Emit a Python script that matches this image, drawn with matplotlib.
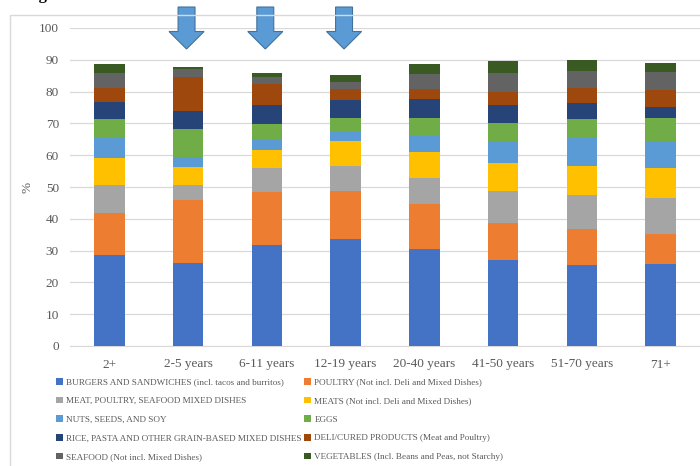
import numpy as np
import matplotlib
matplotlib.use("Agg")
import matplotlib.pyplot as plt
from matplotlib.patches import FancyArrow, Rectangle

plt.rcParams['font.family'] = ['Liberation Serif', 'DejaVu Serif']

groups = ['2+', '2-5 years', '6-11 years', '12-19 years',
          '20-40 years', '41-50 years', '51-70 years', '71+']

burgers = [28.7, 26.2, 31.8, 33.8, 30.4, 27.0, 25.6, 25.8]
poultry = [13.1, 19.8, 16.7, 15.0, 14.3, 11.7, 11.3, 9.5]
mixed = [8.9, 4.7, 7.5, 7.9, 8.1, 10.0, 10.5, 11.3]
meats = [8.4, 5.6, 5.6, 7.9, 8.3, 9.0, 9.1, 9.4]
nuts = [6.2, 3.0, 3.4, 2.9, 5.1, 6.7, 9.0, 8.4]
eggs = [6.0, 8.8, 4.9, 4.1, 5.6, 5.7, 6.0, 7.4]
rice = [5.3, 5.7, 5.9, 5.9, 6.0, 5.7, 4.9, 3.5]
deli = [4.6, 10.8, 6.6, 3.3, 3.0, 4.1, 4.8, 5.3]
seafood = [4.5, 2.6, 2.2, 2.3, 4.7, 6.1, 5.4, 5.7]
vegetables = [2.9, 0.5, 1.1, 2.1, 3.1, 3.6, 3.3, 2.8]

series = [
    ('BURGERS AND SANDWICHES (incl. tacos and burritos)', burgers, '#4472C4'),
    ('POULTRY (Not incl. Deli and Mixed Dishes)', poultry, '#ED7D31'),
    ('MEAT, POULTRY, SEAFOOD MIXED DISHES', mixed, '#A5A5A5'),
    ('MEATS (Not incl. Deli and Mixed Dishes)', meats, '#FFC000'),
    ('NUTS, SEEDS, AND SOY', nuts, '#5B9BD5'),
    ('EGGS', eggs, '#70AD47'),
    ('RICE, PASTA AND OTHER GRAIN-BASED MIXED DISHES', rice, '#264478'),
    ('DELI/CURED PRODUCTS (Meat and Poultry)', deli, '#9E480E'),
    ('SEAFOOD (Not incl. Mixed Dishes)', seafood, '#636363'),
    ('VEGETABLES (Incl. Beans and Peas, not Starchy)', vegetables, '#3A5A24'),
]

# arrows mark the child / teen groups
arrow_groups = [1, 2, 3]

fig = plt.figure(figsize=(7, 4.66), dpi=100)

# chart frame
fig.patches.append(Rectangle((10 / 700, -0.1), 1.0, 1 - 15 / 466 + 0.1,
                             transform=fig.transFigure, fill=False,
                             edgecolor='#D9D9D9', linewidth=1.0))

fig.text(10 / 700, 1 + 1 / 466, 'categories', fontsize=12, fontweight='bold',
         va='baseline', ha='left', color='black')

ax = fig.add_axes([70 / 700, 1 - 346 / 466, 630 / 700, 318 / 466])
x = np.arange(len(groups))
bottom = np.zeros(len(groups))
for label, vals, color in series:
    ax.bar(x, vals, width=0.39, bottom=bottom, color=color, label=label, zorder=3)
    bottom += np.array(vals)

ax.set_xlim(-0.5, len(groups) - 0.5)
ax.set_ylim(0, 100)
ax.set_yticks(range(0, 101, 10))
ax.set_xticks(x)
ax.set_xticklabels(groups)
ax.grid(axis='y', color='#D9D9D9', linewidth=0.9, zorder=0)
for s in ['top', 'right', 'left']:
    ax.spines[s].set_visible(False)
ax.spines['bottom'].set_color('#D9D9D9')
ax.tick_params(axis='both', length=0, colors='#595959', labelsize=9.5)
ax.tick_params(axis='x', pad=9)
ax.tick_params(axis='y', pad=8)
ax.set_ylabel('%', color='#595959', fontsize=9.5, labelpad=4)

for g in arrow_groups:
    ax.add_patch(FancyArrow(g - 0.02, 106.6, 0, -13.2, width=0.215,
                            head_width=0.445, head_length=5.5,
                            length_includes_head=True, facecolor='#5B9BD5',
                            edgecolor='#41719C', linewidth=0.8, clip_on=False,
                            zorder=5))

# legend reads row by row in two columns
handles, labels = ax.get_legend_handles_labels()
order = list(range(0, len(handles), 2)) + list(range(1, len(handles), 2))
fig.legend([handles[i] for i in order], [labels[i] for i in order],
           ncol=2, loc='upper left',
           bbox_to_anchor=(56 / 700, 1 - 378 / 466), frameon=False,
           fontsize=6.6, labelcolor='#595959', handlelength=0.75,
           handleheight=0.75, handletextpad=0.35, columnspacing=0.3,
           labelspacing=1.1, borderaxespad=0, borderpad=0)

fig.savefig('out.png', dpi=100)
